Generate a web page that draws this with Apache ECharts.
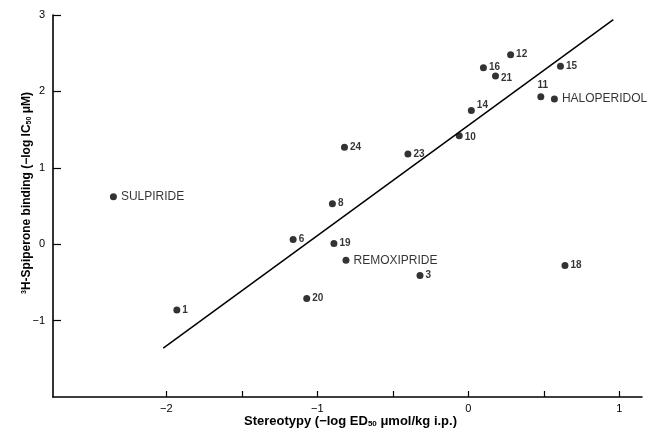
<!DOCTYPE html>
<html>
<head>
<meta charset="utf-8">
<script src="https://cdn.jsdelivr.net/npm/echarts@6/dist/echarts.min.js"></script>
<style>
html,body{margin:0;padding:0;background:#fff;}
#chart{width:649px;height:433px;}
</style>
</head>
<body>
<div id="chart"></div>
<script>
// ---- data ----
const pointNames = ['SULPIRIDE','24','12','16','21','15','11','HALOPERIDOL','14','10','23','8','6','19','REMOXIPRIDE','3','18','20','1'];
const stereotypy = [-2.35,-0.82,0.28,0.10,0.18,0.61,0.48,0.57,0.02,-0.06,-0.40,-0.90,-1.16,-0.89,-0.81,-0.32,0.64,-1.07,-1.93];
const binding    = [0.62,1.27,2.48,2.31,2.20,2.33,1.93,1.90,1.75,1.42,1.18,0.53,0.06,0.01,-0.21,-0.41,-0.28,-0.71,-0.86];
const fitLineX = [-2.02, 0.96];
const fitLineY = [-1.36, 2.94];
const xTickValues = [-2,-1.5,-1,-0.5,0,0.5,1];
const xLabelValues = [-2,-1,0,1];
const yTickValues = [-1,0,1,2,3];
const yLabelValues = [-1,0,1,2,3];

// ---- styling (label placement per point) ----
const labelTweaks = {
  '11': {position:'top', distance:3, offset:[2,0]},
  '14': {offset:[0,-5]},
  '10': {offset:[0,2]},
  '21': {offset:[0,2]}
};
const isName = n => isNaN(Number(n));
const minus = v => (v < 0 ? '\u2212' + Math.abs(v) : String(v));
const ink = '#000';

const scatterData = pointNames.map((n, i) => {
  const t = labelTweaks[n] || {};
  return {
    name: n,
    value: [stereotypy[i], binding[i]],
    label: Object.assign({
      show: true,
      position: 'right',
      distance: isName(n) ? 4 : 2,
      formatter: n,
      color: ink,
      fontFamily: 'Liberation Sans, Arial, sans-serif',
      fontSize: isName(n) ? 12 : 10,
      fontWeight: isName(n) ? 'normal' : 'bold'
    }, t)
  };
});
const lineData = fitLineX.map((x, i) => [x, fitLineY[i]]);

const chart = echarts.init(document.getElementById('chart'), null, {renderer: 'canvas'});
chart.setOption({
  animation: false,
  backgroundColor: '#fff',
  textStyle: {fontFamily: 'Liberation Sans, Arial, sans-serif'},
  grid: {left: 53, right: 7, top: 15, bottom: 36, containLabel: false},
  xAxis: {
    type: 'value',
    min: -2.75, max: 1.15,
    name: 'Stereotypy (\u2212log ED{sub|50} \u03bcmol/kg i.p.)',
    nameLocation: 'middle',
    nameGap: 18,
    nameMoveOverlap: false,
    nameTextStyle: {
      color: ink, fontSize: 13, fontWeight: 'bold', padding: [0,0,0,6],
      rich: {sub: {fontSize: 8, fontWeight: 'bold', color: ink, verticalAlign: 'bottom', padding: [5,0,0,0]}}
    },
    splitLine: {show: false},
    axisLine: {onZero: false, lineStyle: {color: ink, width: 1.6}},
    axisTick: {show: true, inside: true, length: 6, customValues: xTickValues, lineStyle: {color: ink, width: 1.2}},
    axisLabel: {customValues: xLabelValues, formatter: minus, color: ink, fontSize: 11, margin: 6}
  },
  yAxis: {
    type: 'value',
    min: -2, max: 3,
    name: '{sup|3}H-Spiperone binding (\u2212log IC{sub|50} \u03bcM)',
    nameLocation: 'middle',
    nameGap: 20,
    nameMoveOverlap: false,
    nameTextStyle: {
      color: ink, fontSize: 12, fontWeight: 'bold', padding: [0,0,0,26],
      rich: {
        sup: {fontSize: 7, fontWeight: 'bold', color: ink, verticalAlign: 'top', padding: [0,0,4,0]},
        sub: {fontSize: 7, fontWeight: 'bold', color: ink, verticalAlign: 'bottom', padding: [4,0,0,0]}
      }
    },
    splitLine: {show: false},
    axisLine: {show: true, onZero: false, lineStyle: {color: ink, width: 1.6}},
    axisTick: {show: true, inside: true, length: 8, customValues: yTickValues, lineStyle: {color: ink, width: 1.2}},
    axisLabel: {customValues: yLabelValues, formatter: minus, color: ink, fontSize: 11, margin: 8}
  },
  series: [
    {
      type: 'line',
      data: lineData,
      symbol: 'none',
      lineStyle: {color: ink, width: 1.5},
      z: 1,
      silent: true
    },
    {
      type: 'scatter',
      data: scatterData,
      symbol: 'circle',
      symbolSize: 7,
      itemStyle: {color: ink},
      z: 2
    }
  ]
});
</script>
</body>
</html>
